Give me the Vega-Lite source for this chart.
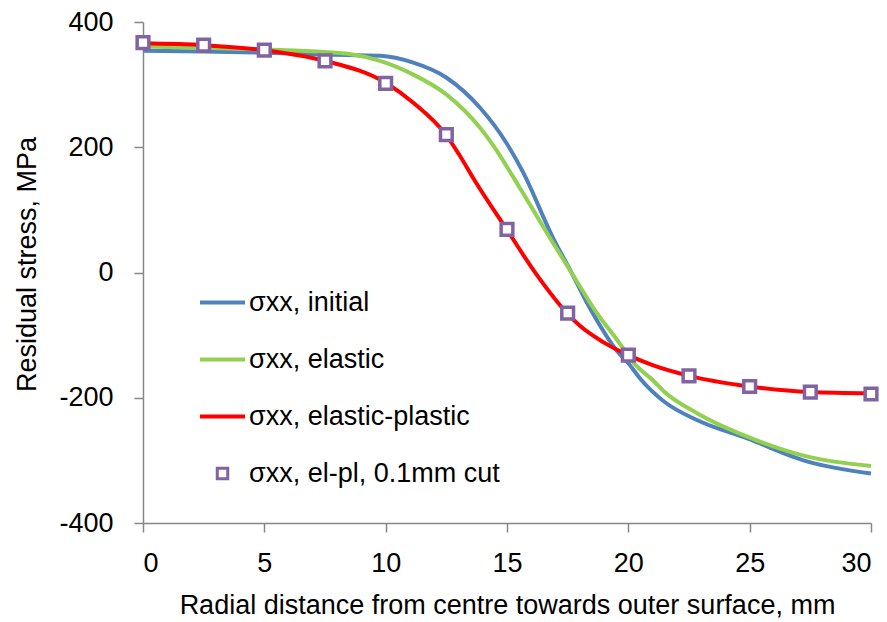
{
  "$schema": "https://vega.github.io/schema/vega-lite/v6.json",
  "width": 728,
  "height": 501,
  "autosize": {"type": "none"},
  "padding": {"left": 143, "top": 22, "right": 16, "bottom": 99},
  "background": "white",
  "config": {
    "view": {"stroke": null},
    "font": "Liberation Sans",
    "axis": {
      "grid": false,
      "domainColor": "#868686",
      "domainWidth": 1.5,
      "tickColor": "#868686",
      "tickWidth": 1.5,
      "tickSize": 9,
      "labelFont": "Liberation Sans",
      "labelFontSize": 27,
      "labelColor": "#000000",
      "titleFont": "Liberation Sans",
      "titleFontSize": 27,
      "titleFontWeight": "normal",
      "titleColor": "#000000"
    }
  },
  "data": {
    "values": [
      {"series": "σxx, initial", "x": 0, "y": 354},
      {"series": "σxx, initial", "x": 2.5, "y": 353},
      {"series": "σxx, initial", "x": 5, "y": 351},
      {"series": "σxx, initial", "x": 7.5, "y": 348},
      {"series": "σxx, initial", "x": 9.77, "y": 346},
      {"series": "σxx, initial", "x": 11.14, "y": 335},
      {"series": "σxx, initial", "x": 12.51, "y": 311},
      {"series": "σxx, initial", "x": 13.89, "y": 263},
      {"series": "σxx, initial", "x": 14.99, "y": 206},
      {"series": "σxx, initial", "x": 15.65, "y": 161},
      {"series": "σxx, initial", "x": 16.9, "y": 55},
      {"series": "σxx, initial", "x": 17.59, "y": 5},
      {"series": "σxx, initial", "x": 18.42, "y": -57},
      {"series": "σxx, initial", "x": 19.55, "y": -126},
      {"series": "σxx, initial", "x": 20, "y": -145},
      {"series": "σxx, initial", "x": 20.5, "y": -170},
      {"series": "σxx, initial", "x": 21.47, "y": -206},
      {"series": "σxx, initial", "x": 22.85, "y": -236},
      {"series": "σxx, initial", "x": 24.9, "y": -265},
      {"series": "σxx, initial", "x": 27.39, "y": -302},
      {"series": "σxx, initial", "x": 30, "y": -321},
      {"series": "σxx, elastic", "x": 0, "y": 361},
      {"series": "σxx, elastic", "x": 2.5, "y": 359},
      {"series": "σxx, elastic", "x": 5, "y": 356},
      {"series": "σxx, elastic", "x": 7.5, "y": 352},
      {"series": "σxx, elastic", "x": 8.5, "y": 349},
      {"series": "σxx, elastic", "x": 9.77, "y": 338},
      {"series": "σxx, elastic", "x": 11.14, "y": 316},
      {"series": "σxx, elastic", "x": 12.51, "y": 284},
      {"series": "σxx, elastic", "x": 13.89, "y": 231},
      {"series": "σxx, elastic", "x": 14.43, "y": 203},
      {"series": "σxx, elastic", "x": 15.53, "y": 135},
      {"series": "σxx, elastic", "x": 16.9, "y": 47},
      {"series": "σxx, elastic", "x": 17.59, "y": 4},
      {"series": "σxx, elastic", "x": 18.62, "y": -60},
      {"series": "σxx, elastic", "x": 19.8, "y": -122},
      {"series": "σxx, elastic", "x": 20, "y": -134},
      {"series": "σxx, elastic", "x": 21.06, "y": -174},
      {"series": "σxx, elastic", "x": 21.47, "y": -190},
      {"series": "σxx, elastic", "x": 22.85, "y": -225},
      {"series": "σxx, elastic", "x": 24.9, "y": -262},
      {"series": "σxx, elastic", "x": 27.39, "y": -294},
      {"series": "σxx, elastic", "x": 30, "y": -309},
      {"series": "σxx, elastic-plastic", "x": 0, "y": 366},
      {"series": "σxx, elastic-plastic", "x": 2.5, "y": 363},
      {"series": "σxx, elastic-plastic", "x": 5, "y": 355},
      {"series": "σxx, elastic-plastic", "x": 7.5, "y": 338},
      {"series": "σxx, elastic-plastic", "x": 10, "y": 303},
      {"series": "σxx, elastic-plastic", "x": 11.14, "y": 271},
      {"series": "σxx, elastic-plastic", "x": 12.5, "y": 219},
      {"series": "σxx, elastic-plastic", "x": 13, "y": 190},
      {"series": "σxx, elastic-plastic", "x": 13.7, "y": 145},
      {"series": "σxx, elastic-plastic", "x": 15, "y": 68},
      {"series": "σxx, elastic-plastic", "x": 16.25, "y": -5},
      {"series": "σxx, elastic-plastic", "x": 17.5, "y": -66},
      {"series": "σxx, elastic-plastic", "x": 18.03, "y": -86},
      {"series": "σxx, elastic-plastic", "x": 19, "y": -112},
      {"series": "σxx, elastic-plastic", "x": 20, "y": -132},
      {"series": "σxx, elastic-plastic", "x": 21, "y": -148},
      {"series": "σxx, elastic-plastic", "x": 22.5, "y": -165},
      {"series": "σxx, elastic-plastic", "x": 25, "y": -182},
      {"series": "σxx, elastic-plastic", "x": 27.5, "y": -191},
      {"series": "σxx, elastic-plastic", "x": 30, "y": -193},
      {"series": "σxx, el-pl, 0.1mm cut", "x": 0, "y": 367},
      {"series": "σxx, el-pl, 0.1mm cut", "x": 2.5, "y": 363},
      {"series": "σxx, el-pl, 0.1mm cut", "x": 5, "y": 355},
      {"series": "σxx, el-pl, 0.1mm cut", "x": 7.5, "y": 338},
      {"series": "σxx, el-pl, 0.1mm cut", "x": 10, "y": 302},
      {"series": "σxx, el-pl, 0.1mm cut", "x": 12.5, "y": 220},
      {"series": "σxx, el-pl, 0.1mm cut", "x": 15, "y": 69},
      {"series": "σxx, el-pl, 0.1mm cut", "x": 17.5, "y": -65},
      {"series": "σxx, el-pl, 0.1mm cut", "x": 20, "y": -132},
      {"series": "σxx, el-pl, 0.1mm cut", "x": 22.5, "y": -165},
      {"series": "σxx, el-pl, 0.1mm cut", "x": 25, "y": -182},
      {"series": "σxx, el-pl, 0.1mm cut", "x": 27.5, "y": -191},
      {"series": "σxx, el-pl, 0.1mm cut", "x": 30, "y": -194}
    ]
  },
  "encoding": {
    "x": {
      "field": "x",
      "type": "quantitative",
      "scale": {"domain": [0, 30], "nice": false, "zero": false},
      "axis": {
        "values": [0, 5, 10, 15, 20, 25, 30],
        "labelPadding": 18,
        "titlePadding": 16,
        "title": "Radial distance from centre towards outer surface, mm"
      }
    },
    "y": {
      "field": "y",
      "type": "quantitative",
      "scale": {"domain": [-400, 400], "nice": false, "zero": false},
      "axis": {
        "values": [-400, -200, 0, 200, 400],
        "labelExpr": "replace(datum.label, '−', '-')",
        "labelPadding": 21,
        "titlePadding": 17,
        "titleY": 242,
        "title": "Residual stress, MPa"
      }
    },
    "color": {
      "field": "series",
      "type": "nominal",
      "scale": {
        "domain": ["σxx, initial", "σxx, elastic", "σxx, elastic-plastic", "σxx, el-pl, 0.1mm cut"],
        "range": ["#4F81BD", "#92D050", "#FF0000", "#8064A2"]
      },
      "legend": {
        "title": null,
        "orient": "none",
        "legendX": 66,
        "legendY": 267,
        "padding": 0,
        "symbolSize": 2025,
        "symbolType": "stroke",
        "symbolStrokeWidth": 4,
        "rowPadding": 29,
        "labelOffset": 13,
        "labelFont": "Liberation Sans",
        "labelFontSize": 27,
        "labelColor": "#000000",
        "labelLimit": 500,
        "encode": {
          "symbols": {
            "update": {
              "shape": {"signal": "datum.value === 'σxx, el-pl, 0.1mm cut' ? 'square' : 'stroke'"},
              "size": {"signal": "datum.value === 'σxx, el-pl, 0.1mm cut' ? 110 : 2025"},
              "strokeWidth": {"signal": "datum.value === 'σxx, el-pl, 0.1mm cut' ? 3 : 4"},
              "fill": {"value": "white"},
              "fillOpacity": {"value": 1},
              "stroke": {"scale": "color", "field": "value"}
            }
          }
        }
      }
    }
  },
  "layer": [
    {
      "transform": [{"filter": "datum.series !== 'σxx, el-pl, 0.1mm cut'"}],
      "mark": {"type": "line", "interpolate": "monotone", "strokeWidth": 4}
    },
    {
      "transform": [{"filter": "datum.series === 'σxx, el-pl, 0.1mm cut'"}],
      "mark": {"type": "point", "shape": "square", "filled": false, "fill": "white", "fillOpacity": 1, "size": 137, "strokeWidth": 3.5, "opacity": 1}
    }
  ]
}
